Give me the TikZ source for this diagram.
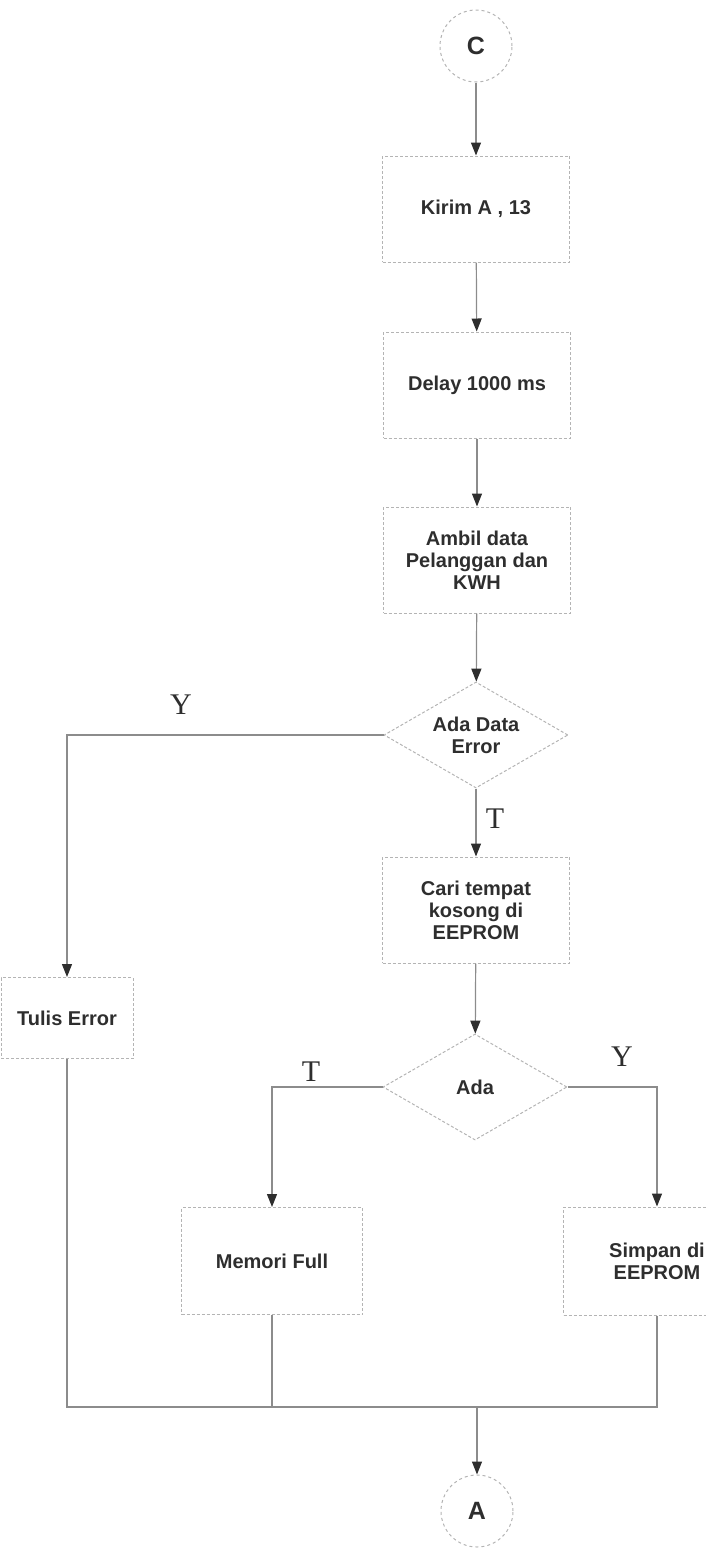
\documentclass[tikz,border=0pt]{standalone}
\usepackage{fontspec}
\setsansfont{Liberation Sans}
\newfontfamily\labelfont{Liberation Serif}
\usepackage{tikz}
\usetikzlibrary{arrows.meta, positioning, shapes.geometric, calc}
\definecolor{inkgray}{HTML}{2E2E2E}
\definecolor{linegray}{HTML}{8C8C8C}
\definecolor{edgegray}{HTML}{B4B4B4}

\begin{document}
\begin{tikzpicture}[x=1pt, y=-1pt,
  box/.style={rectangle, draw=edgegray, densely dashed, line width=1pt, inner sep=2pt,
              minimum width=187pt, minimum height=106pt, align=center, text=inkgray,
              font=\sffamily\bfseries\fontsize{20}{22}\selectfont},
  decision/.style={diamond, draw=edgegray, densely dashed, line width=1pt, inner sep=0pt,
              aspect=1.77, minimum width=184pt, minimum height=106pt, align=center, text=inkgray,
              font=\sffamily\bfseries\fontsize{20}{22}\selectfont},
  connector/.style={circle, draw=edgegray, dashed, line width=1pt, minimum size=72pt, inner sep=0pt,
              text=inkgray, font=\sffamily\bfseries\fontsize{25}{25}\selectfont},
  lbl/.style={text=inkgray, font=\labelfont\fontsize{30}{30}\selectfont},
  line/.style={draw=linegray, line width=1.2pt},
  arr/.style={line, -{Triangle[length=13pt, width=10pt, color=inkgray]}}
]
\useasboundingbox (0,0) rectangle (706,1548);
\clip (0,0) rectangle (706,1548);

\node[connector] (C) at (476,46) {C};
\node[box] (kirim) at (476,209) {Kirim A , 13};
\node[box] (delay) at (477,385) {Delay 1000 ms};
\node[box] (ambil) at (477,560) {Ambil data\\Pelanggan dan\\KWH};
\node[decision] (error) at (476,735) {Ada Data\\Error};
\node[box] (cari) at (476,910) {Cari tempat\\kosong di\\EEPROM};
\node[decision] (ada) at (475,1087) {Ada};
\node[box, minimum width=132pt, minimum height=81pt] (tulis) at (67,1018) {Tulis Error};
\node[box, minimum width=181pt, minimum height=107pt] (memori) at (272,1261) {Memori Full};
\node[box, minimum height=108pt] (simpan) at (657,1261) {Simpan di\\EEPROM};
\node[connector] (A) at (477,1511) {A};
\coordinate (join) at (477,1407);

% main column
\draw[arr] (C) -- (kirim);
\draw[arr] (kirim) -- (delay);
\draw[arr] (delay) -- (ambil);
\draw[arr] (ambil) -- (error);
\draw[arr] (error) -- (cari) node[lbl, pos=0.45, right=6pt] (t1) {T};
\draw[arr] (cari) -- (ada);

% branches
\draw[arr] (error.west) -| (tulis.north);
\node[lbl] (y1) at (181,705) {Y};
\draw[arr] (ada.west) -| (memori.north);
\node[lbl] (t2) at (311,1072) {T};
\draw[arr] (ada.east) -| (simpan.north);
\node[lbl] (y2) at (622,1057) {Y};

% merge
\draw[line] (tulis.south) |- (join);
\draw[line] (memori.south) |- (join);
\draw[line] (simpan.south) |- (join);
\draw[arr] (join) -- (A);
\end{tikzpicture}
\end{document}
